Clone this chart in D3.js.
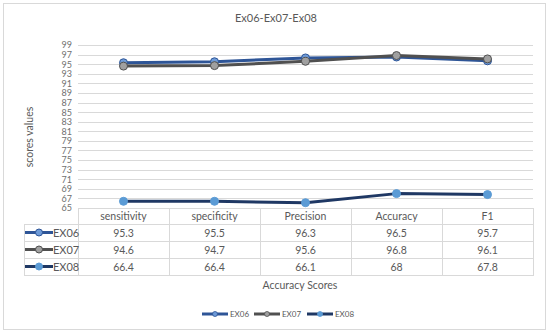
<!DOCTYPE html>
<html><head><meta charset="utf-8">
<script src="https://cdn.jsdelivr.net/npm/d3@7"></script>
<style>body{margin:0;background:#fff;}svg{display:block;font-family:Lato,"Open Sans",sans-serif;}</style>
</head><body><svg id="c" width="550" height="335"></svg>
<script>
const categories = ["sensitivity","specificity","Precision","Accuracy","F1"];
const seriesNames = ["EX06","EX07","EX08"];
const ex06 = [95.3,95.5,96.3,96.5,95.7];
const ex07 = [94.6,94.7,95.6,96.8,96.1];
const ex08 = [66.4,66.4,66.1,68,67.8];
const ex08Labels = ["66.4","66.4","66.1","68","67.8"];
const yTicks = d3.range(65,100,2);

const series = [
  {name:seriesNames[0], values:ex06, labels:ex06.map(String), line:"#2E5597", fill:"#6E9BD8", stroke:"#2E5597"},
  {name:seriesNames[1], values:ex07, labels:ex07.map(String), line:"#505050", fill:"#A0A0A0", stroke:"#505050"},
  {name:seriesNames[2], values:ex08, labels:ex08Labels, line:"#1F3864", fill:"#5B9BD5", stroke:"#5B9BD5"}
];

const svg = d3.select("#c");
svg.append("rect").attr("x",3.5).attr("y",3.5).attr("width",542).attr("height",326).attr("fill","#fff").attr("stroke","#d9d9d9");

const L=78,R=533,T=45,B=208;
const x = d3.scaleBand().domain(categories).range([L,R]).padding(0);
const y = d3.scaleLinear().domain([65,99]).range([B,T]);
const txt = "#595959";

svg.append("text").attr("x",276).attr("y",22).attr("text-anchor","middle").attr("font-size",11).attr("fill",txt).text("Ex06-Ex07-Ex08");

svg.append("g").selectAll("line").data(yTicks).join("line")
  .attr("x1",L).attr("x2",R).attr("y1",d=>Math.round(y(d))+0.5).attr("y2",d=>Math.round(y(d))+0.5)
  .attr("stroke","#d9d9d9").attr("stroke-width",1);

const ya = svg.append("g").attr("transform",`translate(${L},0)`).call(d3.axisLeft(y).tickValues(yTicks).tickSize(0).tickPadding(6));
ya.select(".domain").remove();
ya.selectAll("text").attr("font-size",9).attr("fill","#707070").attr("font-family","Lato,sans-serif");

svg.append("text").attr("transform","translate(33,137) rotate(-90)").attr("text-anchor","middle").attr("font-size",10.5).attr("fill",txt).text("scores values");

const rowH=17, headTop=B, headBot=224;
const tb = svg.append("g").attr("stroke","#d9d9d9").attr("fill","none");
const tableBottom = headBot + rowH*3;
x.domain().forEach(c=>{
  tb.append("line").attr("x1",x(c)+0.5).attr("x2",x(c)+0.5).attr("y1",headTop).attr("y2",tableBottom);
});
tb.append("line").attr("x1",R+0.5).attr("x2",R+0.5).attr("y1",headTop).attr("y2",tableBottom);
tb.append("line").attr("x1",24.5).attr("x2",24.5).attr("y1",headBot).attr("y2",tableBottom);
tb.append("line").attr("x1",L).attr("x2",R).attr("y1",headTop+0.5).attr("y2",headTop+0.5);
for(let i=0;i<=3;i++){
  tb.append("line").attr("x1",24).attr("x2",R+1).attr("y1",headBot+i*rowH+0.5).attr("y2",headBot+i*rowH+0.5);
}
svg.append("g").selectAll("text").data(categories).join("text")
  .attr("x",d=>x(d)+x.bandwidth()/2).attr("y",(headTop+headBot)/2+4).attr("text-anchor","middle")
  .attr("font-size",10.5).attr("fill",txt).text(d=>d);

function marker(g,s,cx,cy,len){
  g.append("line").attr("x1",cx-len/2).attr("x2",cx+len/2).attr("y1",cy).attr("y2",cy).attr("stroke",s.line).attr("stroke-width",3);
  g.append("circle").attr("cx",cx).attr("cy",cy).attr("r",3.5).attr("fill",s.fill).attr("stroke",s.stroke).attr("stroke-width",1);
}

series.forEach((s,i)=>{
  const cy = headBot + rowH*i + rowH/2;
  const g = svg.append("g");
  marker(g,s,39,cy,28);
  g.append("text").attr("x",53).attr("y",cy+4).attr("font-size",11).attr("fill",txt).text(s.name);
  g.selectAll("text.v").data(s.labels).join("text").attr("class","v")
    .attr("x",(d,j)=>x(categories[j])+x.bandwidth()/2).attr("y",cy+4).attr("text-anchor","middle")
    .attr("font-size",10.5).attr("fill",txt).text(d=>d);
});

const line = d3.line().x((d,i)=>x(categories[i])+x.bandwidth()/2).y(d=>y(d));
[series[2],series[0],series[1]].forEach(s=>{
  const g = svg.append("g");
  g.append("path").attr("d",line(s.values)).attr("fill","none").attr("stroke",s.line).attr("stroke-width",3).attr("stroke-linejoin","round");
  g.selectAll("circle").data(s.values).join("circle")
    .attr("cx",(d,i)=>x(categories[i])+x.bandwidth()/2).attr("cy",d=>y(d)).attr("r",4)
    .attr("fill",s.fill).attr("stroke",s.stroke).attr("stroke-width",1);
});

svg.append("text").attr("x",300).attr("y",289).attr("text-anchor","middle").attr("font-size",10.5).attr("fill",txt).text("Accuracy Scores");

const lx=[215,267,320];
series.forEach((s,i)=>{
  const g = svg.append("g");
  g.append("line").attr("x1",lx[i]-13).attr("x2",lx[i]+13).attr("y1",314).attr("y2",314).attr("stroke",s.line).attr("stroke-width",3);
  g.append("circle").attr("cx",lx[i]).attr("cy",314).attr("r",2.5).attr("fill",s.fill).attr("stroke",s.stroke).attr("stroke-width",0.8);
  g.append("text").attr("x",lx[i]+15).attr("y",317).attr("font-size",8).attr("fill",txt).text(s.name);
});
</script></body></html>
